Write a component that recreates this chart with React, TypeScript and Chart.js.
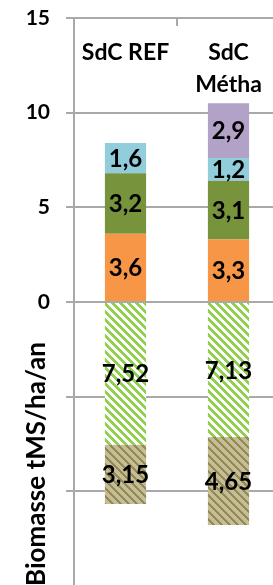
import React, { useEffect, useRef } from 'react';
import { Chart, registerables } from 'chart.js';

Chart.register(...registerables);

// ---- data ----
const categories: string[][] = [['SdC REF'], ['SdC', 'Métha']];
const yMin = -15;
const yMax = 15;
const yStep = 5;
const grainValues = [3.6, 3.3];          // orange
const pailleValues = [3.2, 3.1];         // olive green
const culturesValues = [1.6, 1.2];       // light blue
const cipanMethaValues = [null, 2.9];    // purple
const restitueValues = [-7.52, -7.13];   // green hatch (below 0)
const racinesValues = [-3.15, -4.65];    // tan hatch (below 0)

const FONT = 'Lato';
const GRID = '#A9A9A9';

function makeHatch(bg: string, fg: string, stripe: number) {
  const c = document.createElement('canvas');
  c.width = 8;
  c.height = 8;
  const g = c.getContext('2d')!;
  g.fillStyle = bg;
  g.fillRect(0, 0, 8, 8);
  g.fillStyle = fg;
  for (let y = 0; y < 8; y++) {
    for (let x = 0; x < 8; x++) {
      if ((((x - y) % 8) + 8) % 8 < stripe) g.fillRect(x, y, 1, 1);
    }
  }
  return g.createPattern(c, 'repeat')!;
}

const overlayPlugin = {
  id: 'overlay',
  afterDatasetsDraw(chart: any) {
    const ctx = chart.ctx;
    const area = chart.chartArea;
    const xs = chart.scales.x;
    ctx.save();
    // top category boundary tick
    const midX = (xs.getPixelForValue(0) + xs.getPixelForValue(1)) / 2;
    ctx.strokeStyle = GRID;
    ctx.lineWidth = 2;
    ctx.beginPath();
    ctx.moveTo(Math.round(midX), area.top);
    ctx.lineTo(Math.round(midX), area.top + 8);
    ctx.stroke();

    // data labels
    ctx.fillStyle = '#000';
    ctx.textAlign = 'center';
    ctx.textBaseline = 'middle';
    ctx.font = `bold 24px ${FONT}`;
    chart.data.datasets.forEach((ds: any, i: number) => {
      const meta = chart.getDatasetMeta(i);
      meta.data.forEach((el: any, j: number) => {
        const v = ds.data[j];
        if (v == null || v === 0) return;
        const p = el.getProps(['x', 'y', 'base'], true);
        const txt = String(Math.abs(v)).replace('.', ',');
        ctx.fillText(txt, p.x, (p.y + p.base) / 2 + 1);
      });
    });

    // category labels (inside the plot, at the top)
    ctx.textBaseline = 'alphabetic';
    ctx.font = `bold 23px ${FONT}`;
    categories.forEach((lines, i) => {
      const cx = xs.getPixelForValue(i);
      lines.forEach((t, k) => {
        ctx.fillText(t, cx, area.top + 42 + k * 32);
      });
    });
    ctx.restore();
  },
};

export default function App() {
  const ref = useRef<HTMLCanvasElement | null>(null);

  useEffect(() => {
    if (!ref.current) return;
    const green = makeHatch('#FFFFFF', '#92D050', 4);
    const tan = makeHatch('#C4BD97', '#948A54', 3);
    const common = { barPercentage: 1, categoryPercentage: 0.4, borderWidth: 0, stack: 's' };
    const chart = new Chart(ref.current, {
      type: 'bar',
      data: {
        labels: categories.map((c) => c.join(' ')),
        datasets: [
          { label: 'Grain', data: grainValues, backgroundColor: '#F79646', ...common },
          { label: 'Paille', data: pailleValues, backgroundColor: '#77933C', ...common },
          { label: 'Cultures', data: culturesValues, backgroundColor: '#92CDDC', ...common },
          { label: 'CIVE', data: cipanMethaValues as any, backgroundColor: '#B3A2C7', ...common },
          { label: 'Restitué', data: restitueValues, backgroundColor: green as any, ...common },
          { label: 'Racines', data: racinesValues, backgroundColor: tan as any, ...common },
        ],
      },
      options: {
        responsive: false,
        animation: false,
        layout: { padding: { top: 18, bottom: 14, left: 0, right: 10 } },
        plugins: {
          legend: { display: false },
          tooltip: { enabled: false },
          title: { display: false },
        },
        scales: {
          x: {
            display: false,
            stacked: true,
          },
          y: {
            stacked: true,
            min: yMin,
            max: yMax,
            afterFit: (scale: any) => {
              scale.width = 74;
              scale.paddingTop = 0;
              scale.paddingBottom = 0;
            },
            ticks: {
              stepSize: yStep,
              padding: 16,
              color: '#000',
              font: { family: FONT, size: 21, weight: 'bold' },
              callback: (v: any) => (Number(v) >= 0 ? String(v) : ''),
            },
            grid: {
              color: GRID,
              lineWidth: 2,
              tickLength: 8,
              drawTicks: true,
            },
            border: { display: true, color: GRID, width: 2 },
            title: {
              display: true,
              text: 'Biomasse tMS/ha/an',
              align: 'start',
              color: '#000',
              font: { family: FONT, size: 26, weight: 'bold' },
              padding: { top: 21, bottom: 0 },
            },
          },
        },
      },
      plugins: [overlayPlugin],
    });
    return () => chart.destroy();
  }, []);

  return (
    <div style={{ position: 'fixed', left: 0, top: 0 }}>
      <canvas ref={ref} width={290} height={600} />
    </div>
  );
}
